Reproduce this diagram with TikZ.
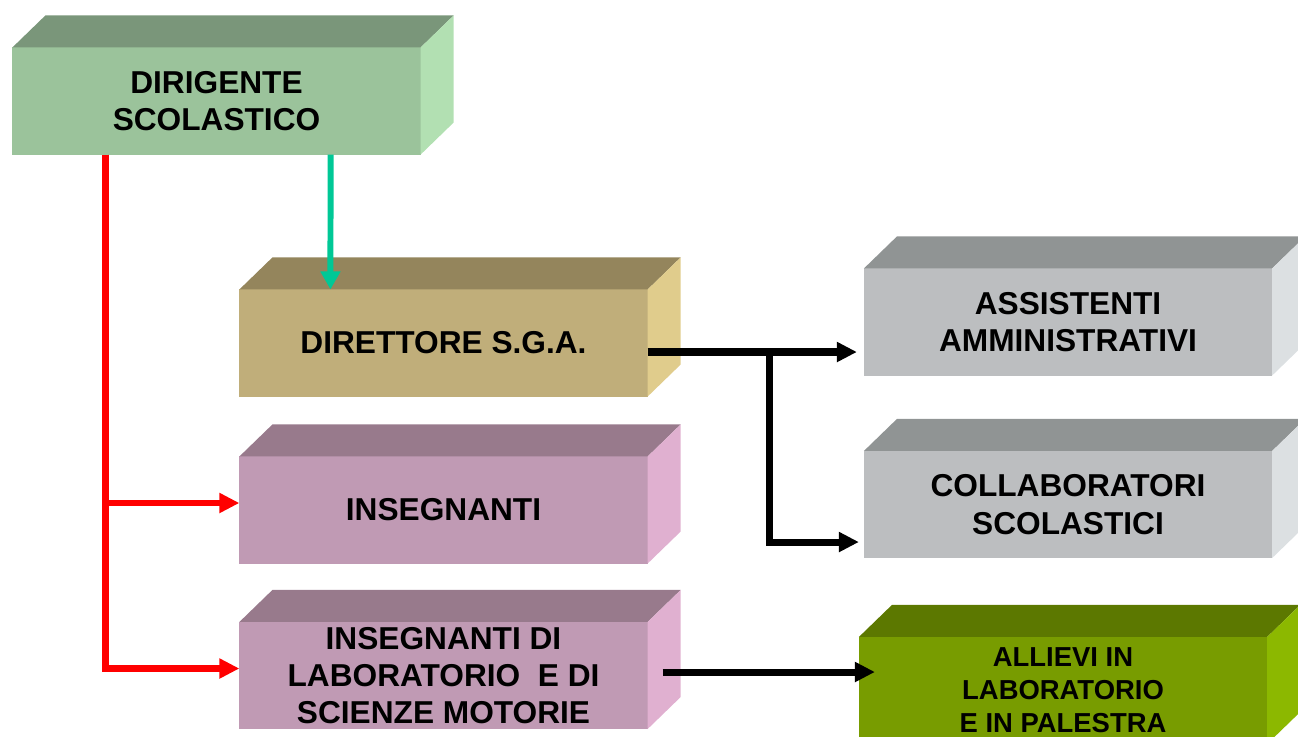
\documentclass[tikz,border=0pt]{standalone}
\usepackage{fontspec}
\setmainfont{Liberation Sans}
\usepackage{tikz}
\usetikzlibrary{arrows.meta}
\definecolor{dirfront}{HTML}{9BC39B}
\definecolor{dirtop}{HTML}{7A967A}
\definecolor{dirside}{HTML}{B2E0B2}
\definecolor{sgafront}{HTML}{C0AE7A}
\definecolor{sgatop}{HTML}{94855C}
\definecolor{sgaside}{HTML}{E0CC8C}
\definecolor{insfront}{HTML}{C09AB4}
\definecolor{instop}{HTML}{987A8C}
\definecolor{insside}{HTML}{E0B0D0}
\definecolor{grayfront}{HTML}{BCBEC0}
\definecolor{graytop}{HTML}{909494}
\definecolor{grayside}{HTML}{DCE0E2}
\definecolor{allfront}{HTML}{789C00}
\definecolor{alltop}{HTML}{5C7800}
\definecolor{allside}{HTML}{8CB800}
\definecolor{tealline}{HTML}{00C896}
\tikzset{every node/.style={font=\bfseries\fontsize{9}{10.6}\selectfont},
  block/.style={rectangle, minimum width=4.08cm, minimum height=1.07cm,
    inner sep=1pt, outer sep=0pt, align=center},
  redarrow/.style={draw=red, line width=1.8pt, -{Triangle[length=0.2cm,width=0.19cm]}},
  tealarrow/.style={draw=tealline, line width=1.7pt, -{Triangle[length=0.18cm,width=0.19cm]}},
  blackarrow/.style={draw=black, line width=2pt, -{Triangle[length=0.2cm,width=0.19cm]}}}

\begin{document}
\begin{tikzpicture}[x=0.01cm, y=-0.01cm]
      \useasboundingbox (0,0) rectangle (1298,736);
      \clip (0,0) rectangle (1298,736);
      % front faces
      \node[block, fill=dirfront] (dir) at (216.5,101) {DIRIGENTE\\SCOLASTICO};
      \node[block, fill=sgafront] (dsga) at (443.5,343) {DIRETTORE S.G.A.};
      \node[block, fill=insfront] (ins) at (443.5,510) {INSEGNANTI};
      \node[block, fill=insfront] (lab) at (443.5,675.5) {INSEGNANTI DI\\LABORATORIO\ \ E DI\\SCIENZE MOTORIE};
      \node[block, fill=grayfront] (ass) at (1068,322) {ASSISTENTI\\AMMINISTRATIVI};
      \node[block, fill=grayfront] (col) at (1068,504.5) {COLLABORATORI\\SCOLASTICI};
      \node[block, fill=allfront, font=\bfseries\fontsize{7.8}{9.4}\selectfont] (all) at (1063,690.5) {ALLIEVI IN\\LABORATORIO\\E IN PALESTRA};
      % top and side faces
      \foreach \n/\tc/\sc in {dir/dirtop/dirside, dsga/sgatop/sgaside, ins/instop/insside,
          lab/instop/insside, ass/graytop/grayside, col/graytop/grayside, all/alltop/allside}
      {
        \fill[\tc] (\n.north west) -- ++(33,-32) -- ([shift={(33,-32)}]\n.north east) -- (\n.north east) -- cycle;
        \fill[\sc] (\n.north east) -- ++(33,-32) -- ([shift={(33,-32)}]\n.south east) -- (\n.south east) -- cycle;
      }
      % connectors
      \coordinate (redtop) at ([xshift=0.93cm]dir.south west);
      \draw[redarrow] (redtop) |- ([yshift=0.07cm]ins.west);
      \draw[redarrow] (redtop) |- ([yshift=0.07cm]lab.west);
      \draw[tealarrow] ([xshift=3.18cm]dir.south west) -- ([xshift=0.91cm]dsga.north west);
      \coordinate (sgaout) at ([yshift=-0.09cm]dsga.east);
      \coordinate (branch) at ([xshift=1.22cm]sgaout);
      \coordinate (colin) at ([yshift=-0.375cm]col.west);
      \draw[blackarrow, shorten >=0.07cm] (sgaout) -- (sgaout -| ass.west);
      \draw[blackarrow, shorten >=0.05cm] (branch) |- (colin);
      \coordinate (labout) at ([xshift=0.15cm,yshift=0.035cm]lab.east);
      \draw[blackarrow, shorten >=-0.16cm] (labout) -- (labout -| all.west);
    \end{tikzpicture}
\end{document}
